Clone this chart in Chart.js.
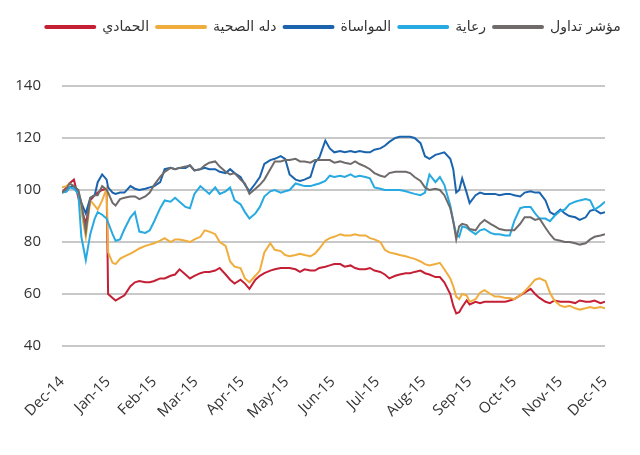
<!DOCTYPE html>
<html lang="ar">
  <head>
    <meta charset="UTF-8" />
    <title>أداء أسهم قطاع الرعاية الصحية</title>
    <script src="https://cdn.jsdelivr.net/npm/chart.js@4.4.1/dist/chart.umd.min.js"></script>
    <style>
      html,
      body {
        margin: 0;
        padding: 0;
        background: #fff;
      }
      canvas {
        display: block;
      }
    </style>
  </head>
  <body>
    <canvas id="chart" width="640" height="455"></canvas>
    <script>
      // days since 1 Dec 2014
      const days = [
        0, 3, 5, 8, 11, 13, 16, 19, 22, 24,
        27, 30, 31, 34, 36, 39, 42, 46, 49, 52,
        56, 59, 62, 66, 69, 73, 76, 79, 83, 86,
        89, 93, 96, 99, 103, 106, 110, 113, 116, 120,
        123, 126, 130, 133, 136, 140, 143, 147, 150, 153,
        157, 160, 163, 167, 170, 173, 177, 180, 183, 187,
        190, 194, 197, 200, 204, 207, 210, 214, 217, 220,
        224, 227, 231, 234, 237, 241, 244, 247, 251, 254,
        257, 261, 263, 265, 267, 269, 272, 274, 278, 281,
        284, 288, 291, 294, 298, 301, 304, 308, 311, 315,
        318, 321, 325, 328, 331, 335, 338, 341, 345, 348,
        352, 355, 358, 362, 365,
      ];

      const monthDays = [0, 31, 62, 90, 121, 151, 182, 212, 243, 274, 304, 335, 365];
      const monthLabels = [
        "Dec-14", "Jan-15", "Feb-15", "Mar-15", "Apr-15", "May-15", "Jun-15",
        "Jul-15", "Aug-15", "Sep-15", "Oct-15", "Nov-15", "Dec-15",
      ];

      const tasi = [
        99, 100.5, 102.5, 101.5, 100, 95, 84, 97, 98, 98,
        101.5, 100, 99, 95, 94, 96.5, 97, 97.5, 97.5, 96.5,
        97.5, 99, 102, 105, 107, 108.5, 108, 108.5, 109, 109.5,
        107.5, 108, 109.5, 110.5, 111, 109, 107, 106, 106.5, 104,
        102.5, 98.5, 100.5, 102, 104, 108, 111, 111, 111.5, 111.5,
        112, 111, 111, 110.5, 111.5, 111.5, 111.5, 111.5, 110.5, 111,
        110.5, 110, 111, 110, 109, 108, 106.5, 105.5, 105, 106.5,
        107, 107, 107, 106.5, 105, 103.5, 101, 100, 100.5, 100,
        98, 93, 88, 81, 86, 87, 86.5, 85, 84.5, 87,
        88.5, 87, 86, 85, 84.5, 84.5, 84.5, 87, 89.5, 89.5,
        88.5, 89, 85.5, 83, 81, 80.5, 80, 80, 79.5, 79,
        79.5, 81, 82, 82.5, 83,
      ];

      const riaya = [
        99, 99.5, 101, 100.5, 98.5, 82, 73, 83, 89, 91.5,
        90.5, 89, 87.5, 83, 80.5, 81, 85, 89.5, 91.5, 84,
        83.5, 84.5, 88, 93, 96, 95.5, 97, 95.5, 93.5, 93,
        98.5, 101.5, 100, 98.5, 101, 98.5, 99.5, 101, 96, 94.5,
        91.5, 89, 91, 93.5, 97.5, 99.5, 100, 99, 99.5, 100,
        102.5, 102, 101.5, 101.5, 102, 102.5, 103.5, 105.5, 105, 105.5,
        105, 106, 105, 105.5, 105, 104.5, 101, 100.5, 100, 100,
        100, 100, 99.5, 99, 98.5, 98, 99, 106, 103, 105,
        102, 94, 88, 83, 82, 86, 85.5, 84.5, 83, 84.5,
        85, 83.5, 83, 83, 82.5, 82.5, 88, 93, 93.5, 93.5,
        91, 89, 89, 88, 90, 92, 92.5, 94.5, 95.5, 96,
        96.5, 96, 92.5, 94, 95.5,
      ];

      const mouwasat = [
        99, 99.5, 101, 101.5, 99, 95, 91, 97, 98, 103,
        106, 104, 101, 99, 98.5, 99, 99, 101.5, 100.5, 100,
        100.5, 101, 101.5, 103, 108, 108.5, 108, 108.5, 108.5, 109.5,
        107.5, 108, 108.5, 108, 108, 107, 106.5, 108, 106.5, 105,
        102, 99.5, 102.5, 105, 110, 111.5, 112, 113, 112, 106,
        104, 103.5, 104, 105, 110.5, 112.5, 119, 116, 114.5, 115,
        114.5, 115, 114.5, 115, 114.5, 114.5, 115.5, 116, 117, 118.5,
        120, 120.5, 120.5, 120.5, 120, 118, 113, 112, 113.5, 114,
        114.5, 112, 108, 99, 100, 104.5, 99, 95, 98, 99,
        98.5, 98.5, 98.5, 98, 98.5, 98.5, 98, 97.5, 99, 99.5,
        99, 99, 96, 91.5, 90.5, 92.5, 91, 90, 89.5, 88.5,
        89.5, 92, 92.5, 91, 91.5,
      ];

      const dallah = [
        101, 101.5, 102.5, 101.5, 99.5, 92, 82, 96, 94, 92.5,
        96, 100.5, 76, 72, 71.5, 73.5, 74.5, 75.5, 76.5, 77.5,
        78.5, 79, 79.5, 80.5, 81.5, 80, 81, 81, 80.5, 80,
        81, 82, 84.5, 84, 83, 80, 78.5, 72.5, 70.5, 70,
        66, 64.5, 67, 69, 76, 79.5, 77, 76.5, 75, 74.5,
        75, 75.5, 75, 74.5, 75.5, 77.5, 80.5, 81.5, 82, 83,
        82.5, 82.5, 83, 82.5, 82.5, 81.5, 81, 80, 77, 76,
        75.5, 75, 74.5, 74, 73.5, 72.5, 71.5, 71, 71.5, 72,
        69.5, 66, 63, 59, 58, 60, 59.5, 57, 58, 60.5,
        61.5, 60, 59, 59, 58.5, 58.5, 58, 59.5, 61, 63.5,
        65.5, 66, 65, 60.5, 57.5, 55.5, 55, 55.5, 54.5, 54,
        54.5, 55, 54.5, 55, 54.5,
      ];

      const hammadi = [
        99, 101, 102.5, 104, 97, 93, 87, 96, 98, 99,
        100, 100.5, 60, 58.5, 57.5, 58.5, 59.5, 63, 64.5, 65,
        64.5, 64.5, 65, 66, 66, 67, 67.5, 69.5, 67.5, 66,
        67, 68, 68.5, 68.5, 69, 70, 67.5, 65.5, 64, 65.5,
        64, 62, 65.5, 67, 68, 69, 69.5, 70, 70, 70,
        69.5, 68.5, 69.5, 69, 69, 70, 70.5, 71, 71.5, 71.5,
        70.5, 71, 70, 69.5, 69.5, 70, 69, 68.5, 67.5, 66,
        67, 67.5, 68, 68, 68.5, 69, 68, 67.5, 66.5, 66.5,
        64.5, 60, 55.5, 52.5, 53, 55, 57.5, 56, 57, 56.5,
        57, 57, 57, 57, 57, 57.5, 58, 59.5, 60.5, 62,
        60, 58.5, 57, 56.5, 57.5, 57, 57, 57, 56.5, 57.5,
        57, 57, 57.5, 56.5, 57,
      ];

      // first dataset is drawn on top; legend is shown in reverse
      const series = [
        { label: "مؤشر تداول", values: tasi, color: "#6f6b6a" },
        { label: "رعاية", values: riaya, color: "#27a9e1" },
        { label: "المواساة", values: mouwasat, color: "#1a63ad" },
        { label: "دله الصحية", values: dallah, color: "#f0ad3c" },
        { label: "الحمادي", values: hammadi, color: "#c41f35" },
      ];

      const tickFont = { family: "Open Sans", size: 15 };

      // the legend in the original sits a little right of centre
      const shiftLegend = {
        id: "shiftLegend",
        afterLayout(chart) {
          if (chart.legend) {
            chart.legend.left += 13;
            chart.legend.right += 13;
          }
        },
      };

      new Chart(document.getElementById("chart"), {
        type: "line",
        data: {
          datasets: series.map((s) => ({
            label: s.label,
            data: days.map((d, i) => ({ x: d, y: s.values[i] })),
            borderColor: s.color,
            backgroundColor: s.color,
            borderWidth: 2,
            pointRadius: 0,
            tension: 0,
            xAxisID: "x",
            yAxisID: "y",
          })),
        },
        plugins: [shiftLegend],
        options: {
          responsive: false,
          animation: false,
          layout: { padding: { left: 0, top: 13, right: 0, bottom: 0 } },
          plugins: {
            legend: {
              position: "top",
              labels: {
                boxWidth: 50,
                boxHeight: 2,
                padding: 7,
                color: "#333",
                useBorderRadius: true,
                borderRadius: 1,
                font: { family: "DejaVu Sans", size: 14 },
                sort: (a, b) => b.datasetIndex - a.datasetIndex,
              },
            },
            tooltip: { enabled: false },
          },
          scales: {
            x: {
              type: "linear",
              min: 0,
              max: 365,
              grid: { display: false },
              border: { display: false },
              afterBuildTicks: (scale) => {
                scale.ticks = monthDays.map((v) => ({ value: v }));
              },
              afterFit: (scale) => {
                scale.height = 109;
              },
              ticks: {
                autoSkip: false,
                minRotation: 45,
                maxRotation: 45,
                padding: 19,
                color: "#333",
                font: tickFont,
                callback: (value, index) => monthLabels[index],
              },
            },
            xTop: {
              position: "top",
              type: "linear",
              grid: { display: false },
              border: { display: false },
              ticks: { display: false },
              afterFit: (scale) => {
                scale.height = 42;
              },
            },
            y: {
              min: 40,
              max: 140,
              ticks: { stepSize: 20, padding: 21, color: "#333", font: tickFont },
              grid: { color: "#c8c8c8", lineWidth: 2, drawTicks: false },
              border: { display: false },
              afterFit: (scale) => {
                scale.width = 62;
              },
            },
            yRight: {
              position: "right",
              type: "linear",
              grid: { display: false },
              border: { display: false },
              ticks: { display: false },
              afterFit: (scale) => {
                scale.width = 35;
              },
            },
          },
        },
      });
    </script>
  </body>
</html>
